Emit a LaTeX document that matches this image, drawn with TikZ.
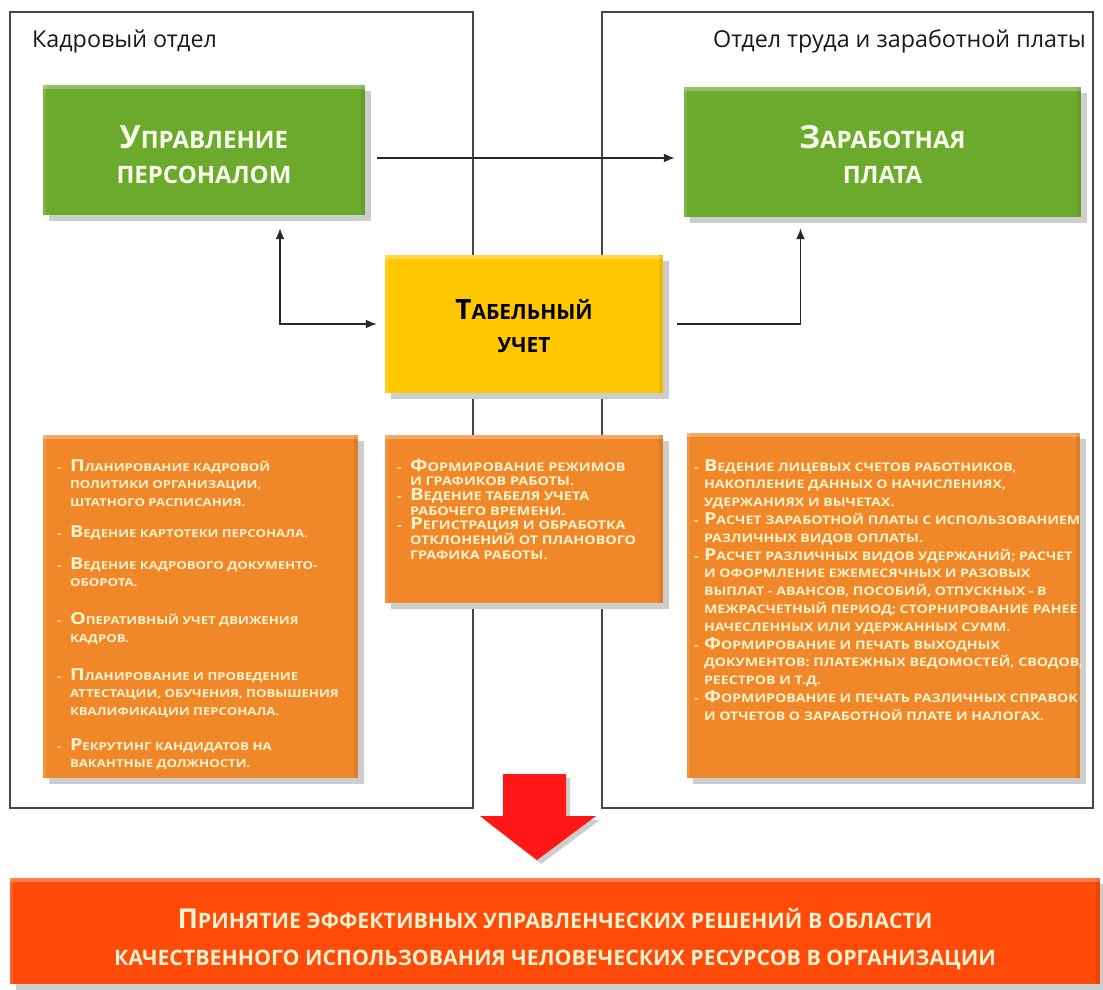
\documentclass[tikz,border=0pt]{standalone}
\usepackage{fontspec}
\setmainfont{Open Sans}
\newfontfamily\wideSC[FakeStretch=1.2]{Open Sans}
\usetikzlibrary{shadows,arrows.meta,calc}
\definecolor{grn}{RGB}{108,170,45}
\definecolor{ylw}{RGB}{255,200,0}
\definecolor{org}{RGB}{240,135,40}
\definecolor{redbox}{RGB}{255,74,10}
\definecolor{redarr}{RGB}{255,22,22}
\definecolor{shadowgray}{RGB}{205,205,205}
\definecolor{linec}{RGB}{40,40,40}
\definecolor{framec}{RGB}{70,70,70}
\definecolor{cream}{RGB}{255,242,205}
\definecolor{gtext}{RGB}{248,255,236}
\newlength\dw
\newcommand\BigL[1]{{\fontsize{\bsz}{\bsz}\selectfont #1}}
\newcommand\SmC[1]{\MakeUppercase{#1}}
\newcommand\ItemD[2]{\mbox{\makebox[\dw][l]{-}\BigL{#1}\SmC{#2}}}
\newcommand\ItemI[1]{\mbox{\hspace*{\dw}\SmC{#1}}}
\tikzset{
  box/.style={inner sep=0pt, draw=none,
    drop shadow={shadow xshift=6pt, shadow yshift=-6pt, fill=shadowgray, opacity=1},
    path picture={
      \fill[white, opacity=0.28] (path picture bounding box.north west) rectangle ([yshift=-4pt]path picture bounding box.north east);
      \fill[white, opacity=0.12] (path picture bounding box.north west) rectangle ([xshift=3pt]path picture bounding box.south west);
      \fill[black, opacity=0.07] ([xshift=-4pt]path picture bounding box.north east) rectangle (path picture bounding box.south east);
    }},
  gbox/.style={box, fill=grn, text=gtext, align=center,
    font={\def\bsz{32}\bfseries\fontsize{24}{35}\selectfont}},
  ybox/.style={box, fill=ylw, text=black, align=center,
    font={\def\bsz{28}\bfseries\fontsize{21}{33}\selectfont}},
  obox/.style={box, fill=org, text=cream},
  rbox/.style={box, fill=redbox, text=cream, align=center,
    font={\def\bsz{27.5}\bfseries\fontsize{21.3}{37}\selectfont}},
  frame/.style={draw=framec, line width=1.4pt, fill=none, inner sep=0pt},
  ttl/.style={inner sep=0pt, text=black!90, font=\fontsize{23.3}{27}\selectfont},
  arr/.style={draw=linec, line width=1.8pt, -{Latex[length=11pt,width=9pt]}},
  arrtwo/.style={draw=linec, line width=1.8pt, {Latex[length=11pt,width=9pt]}-{Latex[length=11pt,width=9pt]}},
}
\begin{document}
\begin{tikzpicture}[x=1pt,y=-1pt]
\useasboundingbox[fill=white] (0,0) rectangle (1103,990);

% department frames
\node[frame, minimum width=463pt, minimum height=796pt] (kframe) at (241.5,410) {};
\node[frame, minimum width=491pt, minimum height=796pt] (zframe) at (847.5,410) {};
\node[ttl, anchor=west] (ktitle) at (32,41) {Кадровый отдел};
\node[ttl, anchor=east] (ztitle) at (1086,41) {Отдел труда и заработной платы};

% main boxes
\node[gbox, minimum width=322pt, minimum height=130pt] (upr) at (204,150)
  {\rule{0pt}{33pt}\BigL{У}\SmC{правление}\\\SmC{персоналом}};
\node[gbox, minimum width=397pt, minimum height=130pt] (zp) at (882.5,152)
  {\rule{0pt}{29pt}\BigL{З}\SmC{аработная}\\\SmC{плата}};
\node[ybox, minimum width=278pt, minimum height=138pt] (tab) at (524,324)
  {\rule{0pt}{24pt}\BigL{Т}\SmC{абельный}\\\SmC{учет}};

% connectors
\draw[arr, shorten >=9pt] ([xshift=12pt,yshift=-8pt]upr.east) coordinate (c1) -- (c1 -| zp.west);
\draw[arrtwo] ([xshift=76pt,yshift=-13pt]upr.south) |- ([xshift=-8pt]tab.west);
\draw[arr] ([xshift=14pt]tab.east) -| ([xshift=-82pt,yshift=-11pt]zp.south);

% description boxes
\node[obox, minimum width=315pt, minimum height=343pt] (odesc) at (200.5,606.5)
  {\parbox[c][343pt][t]{315pt}{\raggedright\leftskip=14pt\setlength\dw{13pt}\def\bsz{16.5}%
   \wideSC\bfseries\fontsize{11}{17.5}\selectfont
   \rule{0pt}{36pt}\ItemD{П}{ланирование кадровой}\\
   \ItemI{политики организации,}\\
   \ItemI{штатного расписания.}\\[13.5pt]
   \ItemD{В}{едение картотеки персонала.}\\[14.5pt]
   \ItemD{В}{едение кадрового документо-}\\
   \ItemI{оборота.}\\[20.5pt]
   \ItemD{О}{перативный учет движения}\\
   \ItemI{кадров.}\\[20.5pt]
   \ItemD{П}{ланирование и проведение}\\
   \ItemI{аттестации, обучения, повышения}\\
   \ItemI{квалификации персонала.}\\[17.5pt]
   \ItemD{Р}{екрутинг кандидатов на}\\
   \ItemI{вакантные должности.}}};
\node[obox, minimum width=278pt, minimum height=168pt] (tdesc) at (524,519)
  {\parbox[c][168pt][t]{278pt}{\raggedright\leftskip=12pt\setlength\dw{13pt}\def\bsz{17}%
   \wideSC\bfseries\fontsize{12}{14.7}\selectfont
   \rule{0pt}{36pt}\ItemD{Ф}{ормирование режимов}\\
   \ItemI{и графиков работы.}\\
   \ItemD{В}{едение табеля учета}\\
   \ItemI{рабочего времени.}\\
   \ItemD{Р}{егистрация и обработка}\\
   \ItemI{отклонений от планового}\\
   \ItemI{графика работы.}}};
\node[obox, minimum width=393pt, minimum height=345pt] (zdesc) at (883.5,605.5)
  {\parbox[c][345pt][t]{393pt}{\raggedright\leftskip=7pt\setlength\dw{10pt}\def\bsz{16.5}%
   \wideSC\bfseries\fontsize{11.8}{17.8}\selectfont
   \rule{0pt}{38pt}\ItemD{В}{едение лицевых счетов работников,}\\
   \ItemI{накопление данных о начислениях,}\\
   \ItemI{удержаниях и вычетах.}\\
   \ItemD{Р}{асчет заработной платы с использованием}\\
   \ItemI{различных видов оплаты.}\\
   \ItemD{Р}{асчет различных видов удержаний; расчет}\\
   \ItemI{и оформление ежемесячных и разовых}\\
   \ItemI{выплат - авансов, пособий, отпускных - в}\\
   \ItemI{межрасчетный период; сторнирование ранее}\\
   \ItemI{начесленных или удержанных сумм.}\\
   \ItemD{Ф}{ормирование и печать выходных}\\
   \ItemI{документов: платежных ведомостей, сводов,}\\
   \ItemI{реестров и т.д.}\\
   \ItemD{Ф}{ормирование и печать различных справок}\\
   \ItemI{и отчетов о заработной плате и налогах.}}};

% big red arrow
\fill[shadowgray] (507,778) -- (570,778) -- (570,820) -- (600,820) -- (541,864) -- (484,820) -- (507,820) -- cycle;
\fill[redarr] (503,774) -- (566,774) -- (566,816) -- (596,816) -- (537,860) -- (480,816) -- (503,816) -- cycle;

% result box
\node[rbox, minimum width=1090pt, minimum height=106pt] (result) at (555,931)
  {\rule{0pt}{36pt}\BigL{П}\SmC{ринятие эффективных управленческих решений в области}\\
   \SmC{качественного использования человеческих ресурсов в организации}};
\end{tikzpicture}
\end{document}
